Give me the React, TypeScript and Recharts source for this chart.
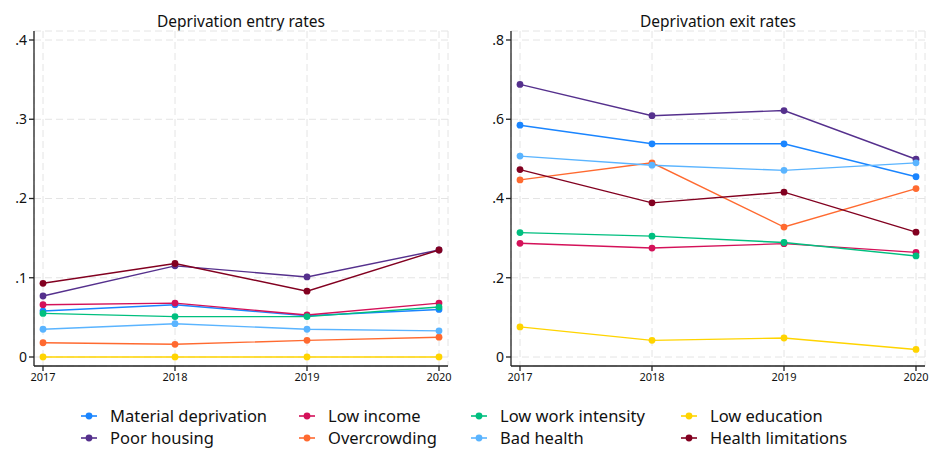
import { LineChart, Line, XAxis, YAxis, CartesianGrid } from 'recharts'

const years = [2017, 2018, 2019, 2020]

const seriesNames = [
  'Material deprivation',
  'Low income',
  'Low work intensity',
  'Low education',
  'Poor housing',
  'Overcrowding',
  'Bad health',
  'Health limitations',
]
const seriesKeys = ['material', 'income', 'work', 'education', 'housing', 'overcrowding', 'badHealth', 'limitations']
const seriesColors = ['#1a85ff', '#d41159', '#00bf7f', '#ffd400', '#55308d', '#ff6a30', '#5ab4ff', '#820020']

// entry rates
const entryMaterial = [0.058, 0.066, 0.052, 0.06]
const entryIncome = [0.066, 0.068, 0.053, 0.068]
const entryWork = [0.055, 0.051, 0.051, 0.063]
const entryEducation = [0, 0, 0, 0]
const entryHousing = [0.077, 0.115, 0.101, 0.135]
const entryOvercrowding = [0.018, 0.016, 0.021, 0.025]
const entryBadHealth = [0.035, 0.042, 0.035, 0.033]
const entryLimitations = [0.093, 0.118, 0.083, 0.135]

// exit rates
const exitMaterial = [0.585, 0.538, 0.538, 0.455]
const exitIncome = [0.287, 0.275, 0.286, 0.264]
const exitWork = [0.314, 0.305, 0.289, 0.255]
const exitEducation = [0.076, 0.042, 0.048, 0.019]
const exitHousing = [0.688, 0.609, 0.622, 0.499]
const exitOvercrowding = [0.447, 0.49, 0.328, 0.425]
const exitBadHealth = [0.507, 0.484, 0.471, 0.49]
const exitLimitations = [0.473, 0.389, 0.416, 0.315]

const entryTicks = [0, 0.1, 0.2, 0.3, 0.4]
const exitTicks = [0, 0.2, 0.4, 0.6, 0.8]

const entrySeries = [entryMaterial, entryIncome, entryWork, entryEducation, entryHousing, entryOvercrowding, entryBadHealth, entryLimitations]
const exitSeries = [exitMaterial, exitIncome, exitWork, exitEducation, exitHousing, exitOvercrowding, exitBadHealth, exitLimitations]

const buildRows = (series: number[][]) =>
  years.map((year, i) => {
    const row: Record<string, number> = { year }
    series.forEach((vals, s) => {
      row[seriesKeys[s]] = vals[i]
    })
    return row
  })

const entryData = buildRows(entrySeries)
const exitData = buildRows(exitSeries)

const FONT = '"Noto Sans", sans-serif'
const AXIS = '#222'

const fmt = (v: number) => (v === 0 ? '0' : v.toFixed(1).replace(/^0/, ''))

function Panel({ data, ticks, title, left, width, marginLeft, marginRight }: any) {
  const plotLeft = marginLeft + 26
  const plotRight = width - marginRight
  return (
    <div style={{ position: 'absolute', left, top: 0, width, height: 395 }}>
      <div
        style={{
          position: 'absolute',
          top: 10,
          left: 0,
          width: plotLeft + plotRight,
          textAlign: 'center',
          fontSize: 15.5,
          color: '#111',
          fontFamily: FONT,
          lineHeight: '22px',
        }}
      >
        {title}
      </div>
      <LineChart width={width} height={395} data={data} margin={{ top: 31, right: marginRight, left: marginLeft, bottom: 9 }}>
        <CartesianGrid stroke="#e4e4e4" strokeDasharray="7 4" />
        <XAxis
          dataKey="year"
          type="number"
          domain={[2017, 2020]}
          ticks={years}
          padding={{ left: 9, right: 9 }}
          height={20}
          tickSize={5}
          tick={{ fontSize: 11, fill: '#111', fontFamily: FONT }}
          stroke={AXIS}
          strokeWidth={1.3}
        />
        <YAxis
          domain={[ticks[0], ticks[ticks.length - 1]]}
          ticks={ticks}
          padding={{ top: 9, bottom: 9 }}
          width={26}
          tickSize={5}
          tickFormatter={fmt}
          tick={{ fontSize: 14, fill: '#111', fontFamily: FONT }}
          stroke={AXIS}
          strokeWidth={1.3}
        />
        {seriesKeys.map((k, i) => (
          <Line
            key={k}
            dataKey={k}
            stroke={seriesColors[i]}
            strokeWidth={1.4}
            dot={{ r: 3.4, fill: seriesColors[i], stroke: seriesColors[i], strokeWidth: 0 }}
            isAnimationActive={false}
          />
        ))}
      </LineChart>
    </div>
  )
}

const legendCols = [81, 299, 471, 681]

export default function App() {
  return (
    <div style={{ position: 'absolute', left: 0, top: 0, width: 929, height: 450, background: '#fff', fontFamily: FONT, overflow: 'hidden' }}>
      <Panel data={entryData} ticks={entryTicks} title="Deprivation entry rates" left={0} width={460} marginLeft={8} marginRight={12} />
      <Panel data={exitData} ticks={exitTicks} title="Deprivation exit rates" left={460} width={469} marginLeft={25} marginRight={4} />
      {seriesNames.map((name, i) => (
        <div
          key={name}
          style={{
            position: 'absolute',
            left: legendCols[i % 4],
            top: 407 + Math.floor(i / 4) * 22,
            height: 18,
            lineHeight: '18px',
            display: 'flex',
            alignItems: 'center',
            fontSize: 16.5,
            color: '#111',
            whiteSpace: 'nowrap',
          }}
        >
          <svg width={16} height={10} style={{ marginRight: 13 }}>
            <line x1={0} y1={5} x2={16} y2={5} stroke={seriesColors[i]} strokeWidth={1.6} />
            <circle cx={8} cy={5} r={3.4} fill={seriesColors[i]} />
          </svg>
          {name}
        </div>
      ))}
    </div>
  )
}
